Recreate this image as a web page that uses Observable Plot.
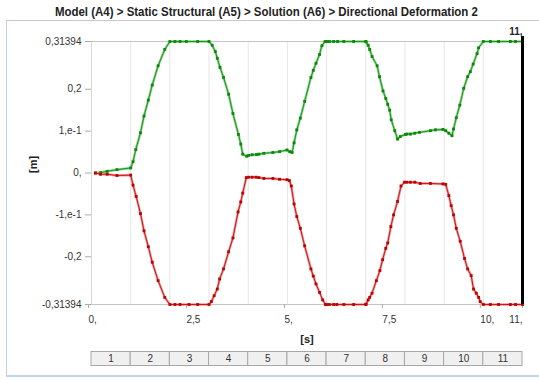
<!DOCTYPE html>
<html><head><meta charset="utf-8">
<script src="https://cdn.jsdelivr.net/npm/d3@7"></script>
<script src="https://cdn.jsdelivr.net/npm/@observablehq/plot@0.6"></script>
<style>
body{margin:0;background:#fff;width:539px;height:381px;overflow:hidden;position:relative;font-family:"Liberation Sans",Arial,sans-serif}
#frame{position:absolute;left:6px;top:20px;width:533px;height:357px;border-left:1px solid #c3cfe0;border-top:1px solid #c8c8c8;border-bottom:2px solid #c6d4e9;box-sizing:border-box}
#title{position:absolute;top:5px;left:-3px;width:539px;text-align:center;font-weight:bold;font-size:12.5px;line-height:14px;color:#222;white-space:nowrap}
#title span{display:inline-block;transform-origin:center}
#chart{position:absolute;left:0;top:20px}
#table{position:absolute;left:0;top:351px}
</style>
</head><body>
<div id="frame"></div>
<div id="title"><span>Model (A4) &gt; Static Structural (A5) &gt; Solution (A6) &gt; Directional Deformation 2</span></div>
<div id="chart"></div>
<div id="table"></div>
<script>
const yMax = 0.31394;
const yTicks = [0.31394, 0.2, 0.1, 0, -0.1, -0.2, -0.31394];
const yLabels = ["0,31394", "0,2", "1,e-1", "0,", "-1,e-1", "-0,2", "-0,31394"];
const xTicks = [0, 2.5, 5, 7.5, 10];
const xLabels = ["0,", "2,5", "5,", "7,5", "10,"];
const xLastTick = 11;
const xLastLabel = "11,";
const steps = [1, 2, 3, 4, 5, 6, 7, 8, 9, 10, 11];

const greenTime = [0.10,0.23,0.40,0.65,1.00,1.06,1.13,1.25,1.34,1.45,1.55,1.70,1.87,2.00,2.13,2.26,2.42,2.71,3.00,
  3.08,3.16,3.21,3.28,3.37,3.50,3.61,3.75,3.81,3.86,3.96,4.01,4.10,4.21,4.27,4.40,4.63,4.80,4.99,5.06,5.12,
  5.17,5.24,5.33,5.44,5.60,5.66,5.73,5.82,5.88,5.96,6.00,6.07,6.18,6.28,6.44,6.69,7.00,
  7.01,7.06,7.10,7.16,7.29,7.35,7.44,7.51,7.56,7.61,7.65,7.74,7.81,7.88,8.01,8.05,8.14,8.25,8.37,8.65,8.78,8.97,
  9.04,9.12,9.20,9.24,9.31,9.40,9.50,9.60,9.67,9.74,9.84,9.88,10.00,10.18,10.39,10.69,10.82,11.00];
const greenValue = [0.000,0.001,0.004,0.008,0.012,0.027,0.056,0.096,0.136,0.174,0.210,0.256,0.295,0.31394,0.31394,0.31394,0.31394,0.31394,0.31394,
  0.305,0.290,0.274,0.252,0.228,0.188,0.142,0.092,0.069,0.045,0.040,0.042,0.0435,0.044,0.045,0.047,0.049,0.051,0.055,0.051,0.049,
  0.072,0.103,0.131,0.171,0.228,0.245,0.262,0.283,0.304,0.31394,0.31394,0.31394,0.31394,0.31394,0.31394,0.31394,0.31394,
  0.313,0.305,0.295,0.278,0.256,0.230,0.196,0.178,0.164,0.150,0.127,0.101,0.081,0.087,0.092,0.093,0.093,0.095,0.097,0.101,0.103,0.104,
  0.101,0.095,0.089,0.105,0.132,0.162,0.202,0.230,0.242,0.260,0.285,0.299,0.31394,0.31394,0.31394,0.31394,0.31394,0.31394];

const redTime = [0.10,0.23,0.40,0.65,1.00,1.06,1.14,1.25,1.34,1.45,1.55,1.70,1.87,2.00,2.13,2.26,2.49,2.71,3.00,
  3.06,3.13,3.21,3.27,3.37,3.50,3.61,3.74,3.81,3.86,3.95,4.01,4.10,4.20,4.27,4.40,4.63,4.80,4.99,5.05,5.10,
  5.17,5.24,5.33,5.44,5.60,5.66,5.73,5.82,5.90,5.97,6.00,6.07,6.18,6.26,6.44,6.69,7.00,
  7.01,7.06,7.10,7.16,7.27,7.36,7.43,7.51,7.56,7.64,7.71,7.81,7.90,7.99,8.05,8.14,8.25,8.39,8.65,8.97,
  9.04,9.12,9.18,9.24,9.31,9.41,9.52,9.60,9.69,9.75,9.82,9.88,9.92,10.00,10.18,10.39,10.69,10.82,11.00];
const redValue = [0.000,-0.003,-0.003,-0.006,-0.005,-0.029,-0.056,-0.097,-0.138,-0.176,-0.213,-0.257,-0.297,-0.31394,-0.31394,-0.31394,-0.31394,-0.31394,-0.31394,
  -0.307,-0.293,-0.277,-0.253,-0.229,-0.188,-0.155,-0.093,-0.069,-0.048,-0.011,-0.010,-0.010,-0.010,-0.011,-0.013,-0.013,-0.015,-0.016,-0.018,-0.031,
  -0.074,-0.104,-0.132,-0.174,-0.229,-0.246,-0.265,-0.285,-0.303,-0.31394,-0.31394,-0.31394,-0.31394,-0.31394,-0.31394,-0.31394,-0.31394,
  -0.313,-0.303,-0.297,-0.287,-0.257,-0.233,-0.207,-0.180,-0.167,-0.128,-0.100,-0.068,-0.031,-0.022,-0.022,-0.022,-0.022,-0.025,-0.025,-0.026,
  -0.027,-0.054,-0.078,-0.100,-0.132,-0.163,-0.204,-0.229,-0.245,-0.277,-0.287,-0.297,-0.307,-0.31394,-0.31394,-0.31394,-0.31394,-0.31394,-0.31394];

const green = greenTime.map((t, i) => ({t, v: greenValue[i]}));
const red = redTime.map((t, i) => ({t, v: redValue[i]}));
const yFmt = new Map(yTicks.map((d, i) => [d, yLabels[i]]));
const xFmt = new Map(xTicks.map((d, i) => [d, xLabels[i]]));

const chart = Plot.plot({
  width: 539, height: 332,
  marginLeft: 91, marginRight: 17, marginTop: 21, marginBottom: 48,
  x: {domain: [0, 11]},
  y: {domain: [-yMax, yMax]},
  style: {fontFamily: "Liberation Sans, Arial, sans-serif", fontSize: "10px", color: "#333", background: "transparent", overflow: "visible"},
  marks: [
    Plot.ruleX(d3.range(1, 11), {stroke: "#e6e6e6"}),
    Plot.ruleX([0], {stroke: "#d8d8d8"}),
    Plot.ruleY([-yMax, yMax], {stroke: "#c4c4c4"}),
    Plot.axisY(yTicks, {tickSize: 6, tickPadding: 4, tickFormat: d => yFmt.get(d), stroke: "#aaa", fill: "#333", label: null}),
    Plot.axisX(xTicks, {tickSize: 4, tickPadding: 7, tickFormat: d => xFmt.get(d), textAnchor: "start", dx: -3, stroke: "#aaa", fill: "#333", label: null}),
    Plot.axisX([xLastTick], {tickSize: 4, tickPadding: 7, tickFormat: () => xLastLabel, textAnchor: "end", dx: 0, stroke: "#aaa", fill: "#333", label: null}),
    Plot.line(green, {x: "t", y: "v", stroke: "#8fd28f", strokeWidth: 2.5}),
    Plot.line(green, {x: "t", y: "v", stroke: "#1d951d", strokeWidth: 1}),
    Plot.dot(green, {x: "t", y: "v", symbol: "square", r: 1.6, fill: "#088a08"}),
    Plot.line(red, {x: "t", y: "v", stroke: "#ec9a9a", strokeWidth: 2.5}),
    Plot.line(red, {x: "t", y: "v", stroke: "#c81818", strokeWidth: 1}),
    Plot.dot(red, {x: "t", y: "v", symbol: "square", r: 1.6, fill: "#c00000"}),
    Plot.ruleX([xLastTick], {stroke: "#000", strokeWidth: 3, insetTop: -5}),
    Plot.text([xLastLabel], {x: xLastTick, frameAnchor: "top", dy: -14, dx: 0, textAnchor: "end", fontWeight: "bold", fontSize: 10, fill: "#222"}),
    Plot.text(["[m]"], {frameAnchor: "left", dx: -58, rotate: -90, fontWeight: "bold", fontSize: 11, fill: "#222"}),
    Plot.text(["[s]"], {frameAnchor: "bottom", dy: 38, fontWeight: "bold", fontSize: 11, fill: "#222"})
  ]
});
document.getElementById("chart").appendChild(chart);

const table = Plot.plot({
  width: 539, height: 16,
  marginLeft: 91, marginRight: 17, marginTop: 0, marginBottom: 0,
  x: {domain: [0, 11], axis: null},
  style: {fontFamily: "Liberation Sans, Arial, sans-serif", fontSize: "10px", color: "#333", background: "transparent"},
  marks: [
    Plot.rect(steps, {x1: d => d - 1, x2: d => d, insetTop: 0.5, insetBottom: 1.5, fill: "#f0f0f0", stroke: "#a8a8a8"}),
    Plot.text(steps, {x: d => d - 0.5, text: d => String(d), dy: -0.5, fill: "#333"})
  ]
});
document.getElementById("table").appendChild(table);

const span = document.querySelector("#title span");
const w = span.getBoundingClientRect().width;
span.style.transform = `scaleX(${423 / w})`;
</script>
</body></html>
